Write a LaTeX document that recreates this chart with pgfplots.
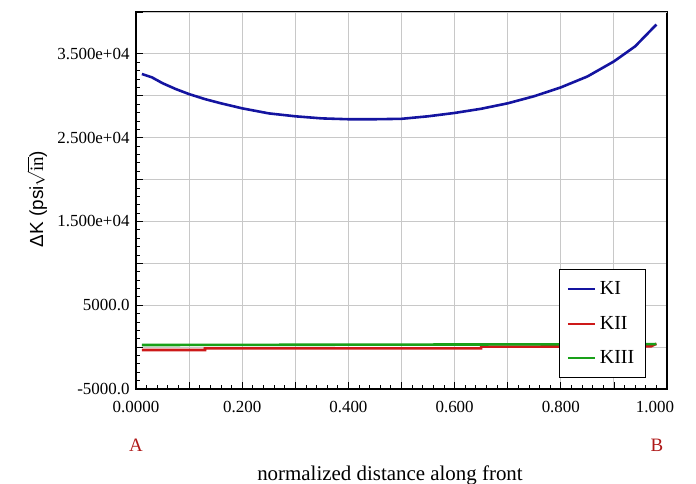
\documentclass[border=0pt]{standalone}
\usepackage{fontspec}
\setmainfont{Liberation Serif}
\newfontfamily\labelsans{Liberation Sans}
\usepackage{pgfplots}
\pgfplotsset{compat=1.18}

\definecolor{kone}{RGB}{20,20,160}
\definecolor{ktwo}{RGB}{205,25,25}
\definecolor{kthree}{RGB}{25,160,25}
\definecolor{ptred}{RGB}{175,25,25}
\definecolor{gridgray}{RGB}{200,200,200}

\begin{document}
\begin{tikzpicture}
\useasboundingbox (-136bp,-95bp) rectangle (560bp,389bp);
\begin{axis}[
  scale only axis,
  width=531bp, height=377bp,
  xmin=0, xmax=1,
  ymin=-5000, ymax=40000,
  scaled x ticks=false, scaled y ticks=false,
  xtick={0,0.1,0.2,0.3,0.4,0.5,0.6,0.7,0.8,0.9,1},
  xticklabels={0.0000,,0.200,,0.400,,0.600,,0.800,,\hspace{-24bp}1.000},
  ytick={-5000,0,5000,10000,15000,20000,25000,30000,35000},
  yticklabels={-5000.0,,5000.0,,1.500e+04,,2.500e+04,,3.500e+04},
  minor x tick num=4,
  minor y tick num=4,
  tick align=inside,
  tick pos=left,
  major tick length=7bp,
  minor tick length=4bp,
  tick style={black, line width=0.8pt},
  axis line style={black, line width=1.2pt},
  grid=major,
  extra y ticks={40000},
  extra y tick labels={},
  extra y tick style={grid=major},
  major grid style={gridgray, line width=0.9pt},
  tick label style={font=\fontsize{17}{20}\selectfont},
  yticklabel style={xshift=-3bp},
  xticklabel style={yshift=-9bp},
  legend style={at={(0.96,0.029)}, anchor=south east, draw=black,
    line width=1.2pt, font=\fontsize{20}{23}\selectfont,
    /tikz/row sep=12bp, inner xsep=7bp, inner ysep=8bp,
    nodes={inner ysep=4bp, inner xsep=4bp}, cells={anchor=west}},
  legend image code/.code={\draw[#1, line width=2.2pt] (0bp,0bp) -- (27bp,0bp);},
]
\addplot[kone, line width=2.6pt] coordinates {
  (0.011,32600) (0.03,32200) (0.05,31500) (0.075,30800) (0.10,30200)
  (0.13,29600) (0.16,29100) (0.20,28500) (0.25,27900) (0.30,27550)
  (0.35,27300) (0.40,27200) (0.45,27200) (0.50,27250) (0.55,27550)
  (0.60,27950) (0.65,28450) (0.70,29100) (0.75,29950) (0.80,31000)
  (0.85,32300) (0.90,34100) (0.94,35900) (0.98,38500)
};
\addlegendentry{KI}
\addplot[ktwo, line width=2.6pt] coordinates {
  (0.011,-350) (0.13,-350) (0.13,-150) (0.65,-150) (0.65,50)
  (0.97,100) (0.98,400)
};
\addlegendentry{KII}
\addplot[kthree, line width=2.6pt] coordinates {
  (0.011,250) (0.5,300) (0.98,350)
};
\addlegendentry{KIII}
\end{axis}
\node[rotate=90, font=\labelsans\fontsize{19}{22}\selectfont] at (-99bp,190bp)
  {ΔK (psi$\sqrt{\mathrm{in}}$)};
\node[ptred, font=\fontsize{19}{22}\selectfont] at (0bp,-56bp) {A};
\node[ptred, font=\fontsize{19}{22}\selectfont] at (521bp,-56bp) {B};
\node[anchor=base, font=\fontsize{21}{24}\selectfont] at (254bp,-91bp)
  {normalized distance along front};
\end{tikzpicture}
\end{document}
